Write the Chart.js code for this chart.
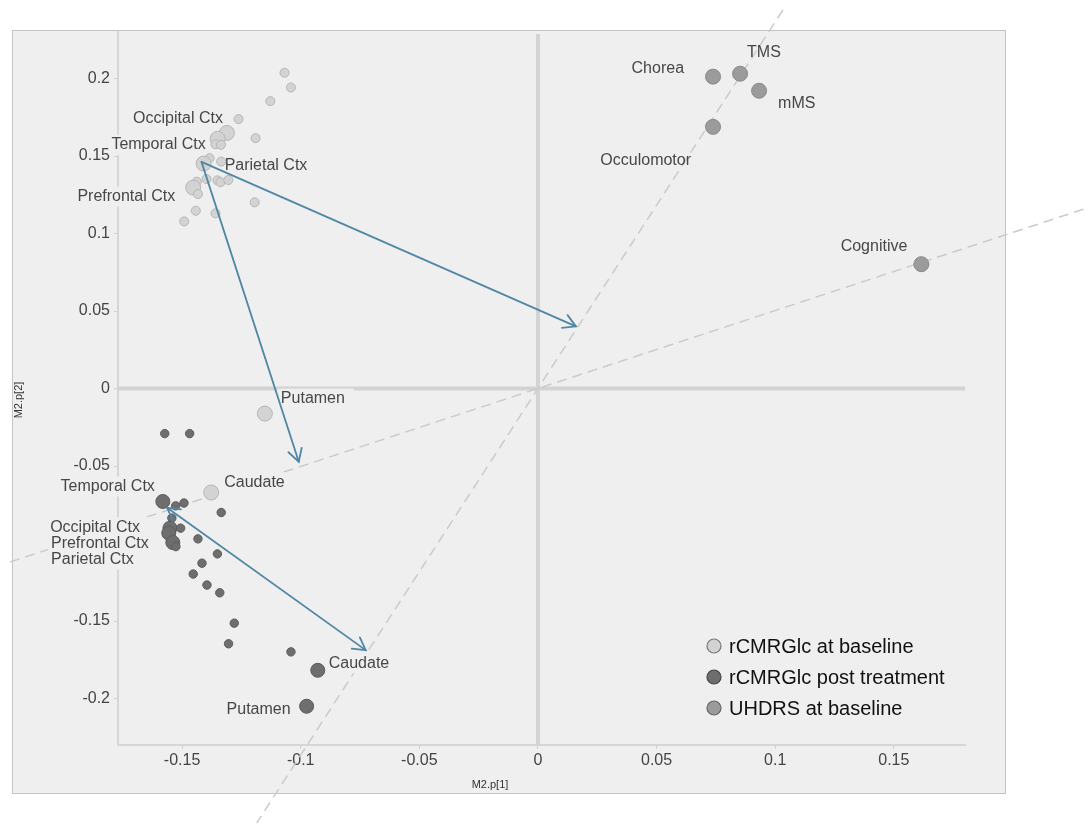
<!DOCTYPE html>
<html>
<head>
<meta charset="utf-8">
<title>M2 loadings</title>
<script src="https://cdn.jsdelivr.net/npm/chart.js@4.4.1/dist/chart.umd.min.js"></script>
<style>
  html, body { margin: 0; padding: 0; background: #fff; }
  #wrap { width: 1089px; height: 825px; }
</style>
</head>
<body>
<div id="wrap"><canvas id="plot" width="1089" height="825"></canvas></div>
<script>
// tick values
const xTicks = [-0.15, -0.1, -0.05, 0, 0.05, 0.1, 0.15];
const yTicks = [-0.2, -0.15, -0.1, -0.05, 0, 0.05, 0.1, 0.15, 0.2];

// rCMRGlc at baseline
const baseX = [-0.1068, -0.1041, -0.1128, -0.1262, -0.1311, -0.1350, -0.1359, -0.1336, -0.1190,
  -0.1384, -0.1409, -0.1335, -0.1397, -0.1351, -0.1338, -0.1305, -0.1438, -0.1453, -0.1433,
  -0.1194, -0.1442, -0.1359, -0.1491, -0.1151, -0.1377];
const baseY = [0.2037, 0.1942, 0.1854, 0.1738, 0.1649, 0.1611, 0.1576, 0.1572, 0.1615,
  0.1486, 0.1451, 0.1464, 0.1352, 0.1343, 0.1331, 0.1345, 0.1334, 0.1296, 0.1255,
  0.1201, 0.1147, 0.1130, 0.1078, -0.0162, -0.0671];
const baseNames = ['', '', '', '', 'Occipital Ctx', 'Temporal Ctx', '', '', '',
  '', 'Parietal Ctx', '', '', '', '', '', '', 'Prefrontal Ctx', '',
  '', '', '', '', 'Putamen', 'Caudate'];

// rCMRGlc post treatment
const postX = [-0.1573, -0.1468, -0.1581, -0.1527, -0.1492, -0.1543, -0.1551, -0.1556, -0.1506,
  -0.1539, -0.1526, -0.1335, -0.1433, -0.1351, -0.1416, -0.1453, -0.1395, -0.1341,
  -0.1280, -0.1304, -0.1041, -0.0928, -0.0975];
const postY = [-0.0291, -0.0291, -0.0729, -0.0757, -0.0739, -0.0836, -0.0901, -0.0933, -0.0901,
  -0.0994, -0.1020, -0.0800, -0.0970, -0.1067, -0.1127, -0.1197, -0.1268, -0.1318,
  -0.1514, -0.1647, -0.1699, -0.1818, -0.2050];
const postNames = ['', '', 'Temporal Ctx', '', '', '', 'Occipital Ctx', 'Prefrontal Ctx', '',
  'Parietal Ctx', '', '', '', '', '', '', '', '',
  '', '', '', 'Caudate', 'Putamen'];

// UHDRS at baseline
const uhdrsX = [0.0738, 0.0852, 0.0932, 0.0738, 0.1616];
const uhdrsY = [0.2012, 0.2031, 0.1921, 0.1688, 0.0802];
const uhdrsNames = ['Chorea', 'TMS', 'mMS', 'Occulomotor', 'Cognitive'];

// direction lines through the origin (slope in data units)
const dirSlopes = [2.365, 0.503];

// arrows
const arrowFromX = [-0.1418, -0.1418, -0.1563];
const arrowFromY = [0.1462, 0.1462, -0.0770];
const arrowToX = [0.0160, -0.1008, -0.0726];
const arrowToY = [0.0401, -0.0472, -0.1688];
const arrowBoth = [false, false, true];

const FONT = '"Liberation Sans", Arial, Helvetica, sans-serif';
const PANEL = '#efefef';
const seriesNames = [baseNames, postNames, uhdrsNames];

// where each label sits relative to its point: [dx, dy, align]
const labelPlace = [
  {
    'Occipital Ctx': [-4, -14, 'right'],
    'Temporal Ctx': [-12, 6, 'right'],
    'Parietal Ctx': [21, 2, 'left'],
    'Prefrontal Ctx': [-18, 9, 'right'],
    'Putamen': [16, -15, 'left'],
    'Caudate': [13, -10, 'left']
  },
  {
    'Temporal Ctx': [-8, -15, 'right'],
    'Occipital Ctx': [-30, -1, 'right'],
    'Prefrontal Ctx': [-20, 10, 'right'],
    'Parietal Ctx': [-39, 17, 'right'],
    'Caudate': [11, -7, 'left'],
    'Putamen': [-16, 3, 'right']
  },
  {
    'Chorea': [-29, -8, 'right'],
    'TMS': [7, -21, 'left'],
    'mMS': [19, 13, 'left'],
    'Occulomotor': [-22, 34, 'right'],
    'Cognitive': [-14, -18, 'right']
  }
];
const labelBoxed = [true, true, false];
const legendEdge = ['#777', '#444', '#666'];

function pts(xs, ys) { return xs.map((x, i) => ({ x: x, y: ys[i] })); }
function radii(names, big, small) { return names.map(n => n ? big : small); }
function fmt(v) {
  const s = Number(v.toFixed(3)).toString();
  return s === '-0' ? '0' : s;
}

const panelPlugin = {
  id: 'panel',
  beforeDraw(chart) {
    const { ctx, chartArea: a } = chart;
    ctx.save();
    ctx.fillStyle = '#fff';
    ctx.fillRect(0, 0, chart.width, chart.height);
    const l = a.left - 106, t = a.top - 2;
    const w = a.right - a.left + 146, h = a.bottom - a.top + 50;
    ctx.fillStyle = PANEL;
    ctx.fillRect(l, t, w, h);
    ctx.strokeStyle = '#c4c4c4';
    ctx.lineWidth = 1;
    ctx.strokeRect(l + 0.5, t + 0.5, w, h);
    ctx.restore();
  }
};

const overlayPlugin = {
  id: 'overlay',
  beforeDatasetsDraw(chart) {
    const { ctx, chartArea: a } = chart;
    const xs = chart.scales.x, ys = chart.scales.y;
    const x0 = xs.getPixelForValue(0), y0 = ys.getPixelForValue(0);
    ctx.save();

    // zero lines
    ctx.strokeStyle = '#d3d3d3';
    ctx.lineWidth = 4;
    ctx.beginPath();
    ctx.moveTo(x0, a.top + 2);
    ctx.lineTo(x0, a.bottom);
    ctx.moveTo(a.left, y0);
    ctx.lineTo(a.right, y0);
    ctx.stroke();

    // dashed direction lines
    ctx.strokeStyle = '#cbcbcb';
    ctx.lineWidth = 1.5;
    ctx.setLineDash([10, 6]);
    dirSlopes.forEach(m => {
      const dx = xs.getPixelForValue(1) - x0;
      const dy = ys.getPixelForValue(m) - y0;
      let p1, p2;
      if (Math.abs(dy) > Math.abs(dx)) {
        const k = dx / dy;
        p1 = [x0 + (10 - y0) * k, 10];
        p2 = [x0 + (chart.height - 2 - y0) * k, chart.height - 2];
      } else {
        const k = dy / dx;
        p1 = [10, y0 + (10 - x0) * k];
        p2 = [chart.width, y0 + (chart.width - x0) * k];
      }
      ctx.beginPath();
      ctx.moveTo(p1[0], p1[1]);
      ctx.lineTo(p2[0], p2[1]);
      ctx.stroke();
    });
    ctx.setLineDash([]);

    // point labels: boxes first, then text
    ctx.font = '16px ' + FONT;
    ctx.textBaseline = 'middle';
    const items = [];
    chart.data.datasets.forEach((ds, di) => {
      seriesNames[di].forEach((n, i) => {
        if (!n) return;
        const p = labelPlace[di][n];
        const px = xs.getPixelForValue(ds.data[i].x) + p[0];
        const py = ys.getPixelForValue(ds.data[i].y) + p[1];
        const w = ctx.measureText(n).width;
        items.push({ n, px, py, w, align: p[2], boxed: labelBoxed[di] });
      });
    });
    ctx.fillStyle = PANEL;
    items.forEach(it => {
      if (!it.boxed) return;
      const left = it.align === 'right' ? it.px - it.w : it.px;
      ctx.fillRect(left - 3, it.py - 10, it.w + 12, 20);
    });
    ctx.fillStyle = '#474747';
    items.forEach(it => {
      ctx.textAlign = it.align;
      ctx.fillText(it.n, it.px, it.py);
    });
    ctx.restore();
  },
  afterDatasetsDraw(chart) {
    const { ctx } = chart;
    const xs = chart.scales.x, ys = chart.scales.y;
    ctx.save();
    ctx.strokeStyle = '#5086a6';
    ctx.lineWidth = 1.8;
    ctx.lineCap = 'round';
    const head = (tx, ty, fx, fy) => {
      const ang = Math.atan2(ty - fy, tx - fx);
      const len = 14, spread = 0.52;
      ctx.beginPath();
      ctx.moveTo(tx - len * Math.cos(ang - spread), ty - len * Math.sin(ang - spread));
      ctx.lineTo(tx, ty);
      ctx.lineTo(tx - len * Math.cos(ang + spread), ty - len * Math.sin(ang + spread));
      ctx.stroke();
    };
    arrowFromX.forEach((fxv, i) => {
      const fx = xs.getPixelForValue(fxv), fy = ys.getPixelForValue(arrowFromY[i]);
      const tx = xs.getPixelForValue(arrowToX[i]), ty = ys.getPixelForValue(arrowToY[i]);
      ctx.beginPath();
      ctx.moveTo(fx, fy);
      ctx.lineTo(tx, ty);
      ctx.stroke();
      head(tx, ty, fx, fy);
      if (arrowBoth[i]) head(fx, fy, tx, ty);
    });
    ctx.restore();
  },
  afterDraw(chart) {
    const { ctx, chartArea: a } = chart;
    ctx.save();
    // legend in the lower right corner
    chart.data.datasets.forEach((ds, i) => {
      const cx = a.right - 251, cy = a.bottom - 99 + i * 31;
      ctx.beginPath();
      ctx.arc(cx, cy, 7, 0, Math.PI * 2);
      ctx.fillStyle = ds.backgroundColor;
      ctx.fill();
      ctx.lineWidth = 1.2;
      ctx.strokeStyle = legendEdge[i];
      ctx.stroke();
      ctx.font = '20px ' + FONT;
      ctx.fillStyle = '#111';
      ctx.textAlign = 'left';
      ctx.textBaseline = 'middle';
      ctx.fillText(ds.label, cx + 15, cy + 1);
    });
    // axis titles
    ctx.font = '11px ' + FONT;
    ctx.fillStyle = '#333';
    ctx.textAlign = 'center';
    ctx.textBaseline = 'middle';
    ctx.fillText('M2.p[1]', a.left + 372, a.bottom + 40);
    ctx.translate(a.left - 99, a.top + 368);
    ctx.rotate(-Math.PI / 2);
    ctx.fillText('M2.p[2]', 0, 0);
    ctx.restore();
  }
};

new Chart(document.getElementById('plot'), {
  type: 'scatter',
  data: {
    datasets: [
      {
        label: 'rCMRGlc at baseline',
        data: pts(baseX, baseY),
        backgroundColor: '#d3d3d3',
        borderColor: '#b6b6b6',
        borderWidth: 1,
        pointRadius: radii(baseNames, 7.5, 4.5)
      },
      {
        label: 'rCMRGlc post treatment',
        data: pts(postX, postY),
        backgroundColor: '#6e6e6e',
        borderColor: '#5c5c5c',
        borderWidth: 1,
        pointRadius: radii(postNames, 7, 4.2)
      },
      {
        label: 'UHDRS at baseline',
        data: pts(uhdrsX, uhdrsY),
        backgroundColor: '#9b9b9b',
        borderColor: '#8a8a8a',
        borderWidth: 1,
        pointRadius: radii(uhdrsNames, 7.5, 4)
      }
    ]
  },
  options: {
    responsive: false,
    animation: false,
    devicePixelRatio: 1,
    events: [],
    layout: { padding: { left: 0, top: 32, right: 124, bottom: 0 } },
    plugins: {
      legend: { display: false },
      tooltip: { enabled: false }
    },
    scales: {
      x: {
        type: 'linear',
        min: -0.177,
        max: 0.18,
        afterFit(s) { s.height = 80; },
        afterBuildTicks(s) { s.ticks = xTicks.map(v => ({ value: v })); },
        ticks: {
          autoSkip: false,
          maxRotation: 0,
          padding: 2,
          color: '#444',
          font: { family: FONT, size: 16 },
          callback: v => fmt(v)
        },
        grid: { drawOnChartArea: false, drawTicks: true, tickLength: 4, color: '#d0d0d0' },
        border: { display: true, color: '#d6d6d6', width: 2 }
      },
      y: {
        type: 'linear',
        min: -0.23,
        max: 0.23,
        afterFit(s) { s.width = 118; },
        afterBuildTicks(s) { s.ticks = yTicks.map(v => ({ value: v })); },
        ticks: {
          autoSkip: false,
          padding: 4,
          color: '#444',
          font: { family: FONT, size: 16 },
          callback: v => fmt(v)
        },
        grid: { drawOnChartArea: false, drawTicks: true, tickLength: 4, color: '#d0d0d0' },
        border: { display: true, color: '#d6d6d6', width: 2 }
      }
    }
  },
  plugins: [panelPlugin, overlayPlugin]
});
</script>
</body>
</html>
